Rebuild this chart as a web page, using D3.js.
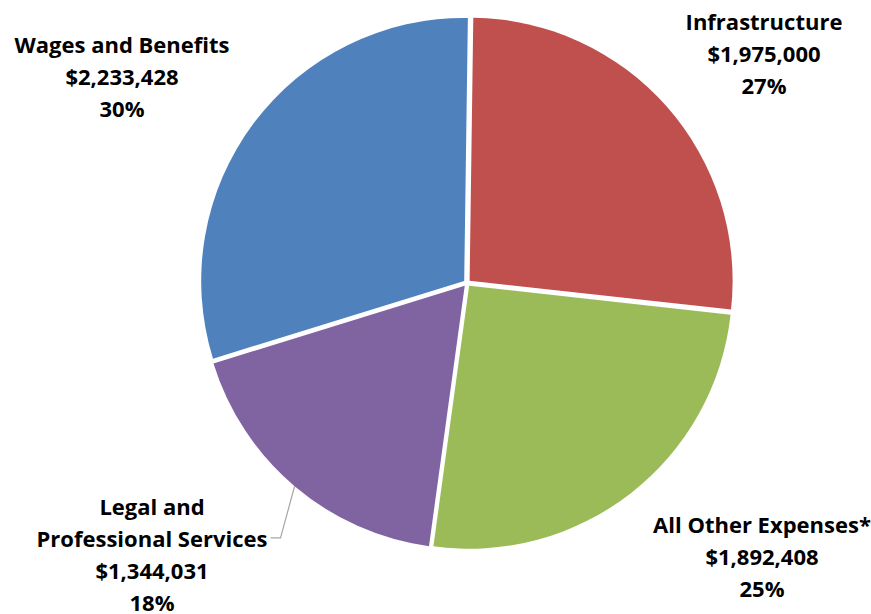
<!DOCTYPE html>
<html>
<head>
<meta charset="utf-8">
<script src="https://cdn.jsdelivr.net/npm/d3@7"></script>
<style>
  body { margin: 0; background: #ffffff; }
  text { font-family: "Open Sans", Lato, sans-serif; font-weight: 700; fill: #000; }
</style>
</head>
<body>
<svg id="chart" width="871" height="614"></svg>
<script>
// Expense breakdown, clockwise from 12 o'clock
const categories = ["Infrastructure", "All Other Expenses*", "Legal and\nProfessional Services", "Wages and Benefits"];
const values = [1975000, 1892408, 1344031, 2233428];
const colors = ["#C0504D", "#9BBB59", "#8064A2", "#4F81BD"];

const width = 871, height = 614;
const cx = 467, cy = 283, radius = 263, explode = 3.5;
const startDeg = 0.8;

const svg = d3.select("#chart");
const total = d3.sum(values);

const pie = d3.pie()
  .sort(null)
  .value(d => d.value)
  .startAngle(startDeg * Math.PI / 180)
  .endAngle((360 + startDeg) * Math.PI / 180);

const data = categories.map((c, i) => ({ name: c, value: values[i], color: colors[i] }));
const arcs = pie(data);
const arc = d3.arc().innerRadius(0).outerRadius(radius);

const g = svg.append("g").attr("transform", `translate(${cx},${cy})`);

g.selectAll("path.slice")
  .data(arcs)
  .join("path")
  .attr("class", "slice")
  .attr("d", arc)
  .attr("fill", d => d.data.color)
  .attr("transform", d => {
    const m = (d.startAngle + d.endAngle) / 2;
    return `translate(${explode * Math.sin(m)},${-explode * Math.cos(m)})`;
  });

// Label placement (centre of each text block, in page coordinates)
const labelAt = [
  { x: 764, y: 54 },
  { x: 762, y: 557 },
  { x: 152, y: 555 },
  { x: 122, y: 77 }
];
const lineH = 32;
const fmt = d3.format("$,");

arcs.forEach((d, i) => {
  const lines = d.data.name.split("\n")
    .concat([fmt(d.data.value), Math.round(d.data.value / total * 100) + "%"]);
  const p = labelAt[i];
  const y0 = p.y - (lines.length - 1) * lineH / 2;
  const t = svg.append("text")
    .attr("text-anchor", "middle")
    .attr("font-size", 22);
  lines.forEach((ln, k) => {
    t.append("tspan")
      .attr("x", p.x)
      .attr("y", y0 + k * lineH)
      .attr("dy", "0.36em")
      .text(ln);
  });
  d.textNode = t;
});

// Leader line for the lower-left label
{
  const d = arcs[2];
  const m = (d.startAngle + d.endAngle) / 2;
  const ex = cx + explode * Math.sin(m) + radius * Math.sin(m);
  const ey = cy - explode * Math.cos(m) - radius * Math.cos(m);
  const tspan = d.textNode.selectAll("tspan").nodes()[1];
  const bb = tspan.getBBox();
  const lx = bb.x + bb.width + 3;
  const ly = bb.y + bb.height / 2;
  svg.append("path")
    .attr("d", `M${lx},${ly}L${lx + 10},${ly}L${ex},${ey}`)
    .attr("fill", "none")
    .attr("stroke", "#a6a6a6")
    .attr("stroke-width", 1.2);
}
</script>
</body>
</html>
